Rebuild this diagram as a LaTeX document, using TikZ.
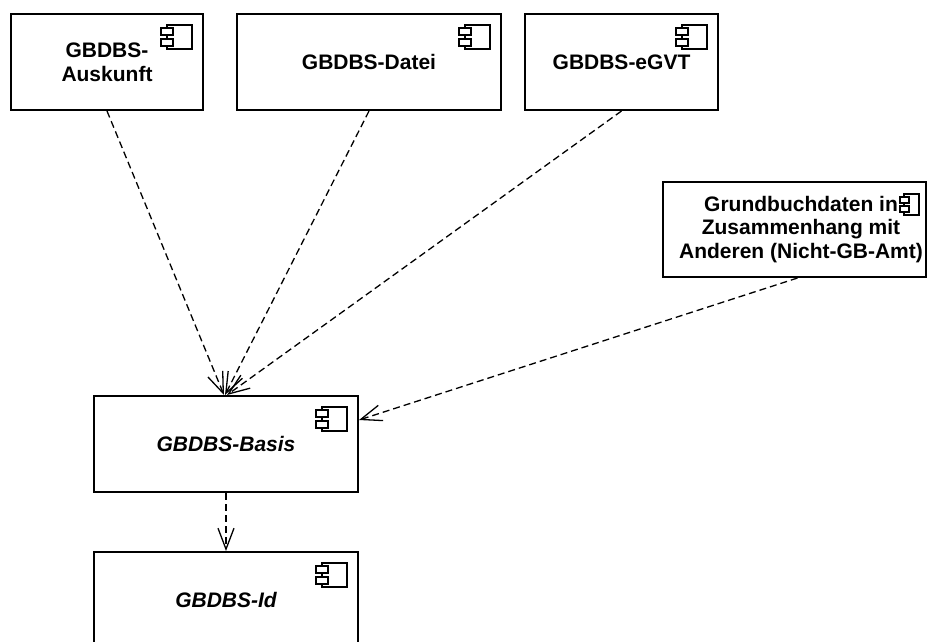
\documentclass[tikz,border=0pt]{standalone}
\usepackage{fontspec}
\setmainfont{Liberation Sans}
\usetikzlibrary{arrows.meta,calc}
\tikzset{
  comp/.style={draw,line width=2pt,fill=white,inner sep=0pt,align=center,
    font=\fontsize{21}{24}\selectfont\bfseries,minimum height=96pt},
  lbl/.style={inner sep=0pt,align=center,font=\fontsize{21}{23.5}\selectfont\bfseries},
  dep/.style={line width=1.3pt,dash pattern=on 7pt off 4pt,
    -{Straight Barb[length=21pt,width=16pt,line width=1.3pt]}},
  iconline/.style={line width=1.3pt,fill=white},
  compicon/.pic={
    \draw[iconline] (-37,12) rectangle (-12,36);
    \draw[iconline] (-43,15) rectangle (-31,22);
    \draw[iconline] (-43,26) rectangle (-31,33);
  }
}
\begin{document}
\begin{tikzpicture}[x=1pt,y=-1pt]
\useasboundingbox (0,0) rectangle (928,641);
\clip (0,0) rectangle (928,641);
\fill[white] (0,0) rectangle (928,641);

% boxes
\node[comp,minimum width=192pt] (ausk) at (107,62) {GBDBS-\\Auskunft};
\node[comp,minimum width=264pt] (datei) at (369,62) {GBDBS-Datei};
\node[comp,minimum width=193pt] (egvt) at (621.5,62) {GBDBS-eGVT};
\node[comp,minimum width=263pt,minimum height=95pt] (grund) at (794.5,229.5) {};
\node[lbl] (gtext) at (801,229.5) {Grundbuchdaten in\\Zusammenhang mit\\Anderen (Nicht-GB-Amt)};
\node[comp,minimum width=264pt,font=\fontsize{21}{24}\selectfont\bfseries\itshape] (basis) at (226,444) {GBDBS-Basis};
\node[comp,minimum width=264pt,font=\fontsize{21}{24}\selectfont\bfseries\itshape] (id) at (226,600) {GBDBS-Id};

% component icons
\pic at (ausk.north east) {compicon};
\pic at (datei.north east) {compicon};
\pic at (egvt.north east) {compicon};
\pic at (basis.north east) {compicon};
\pic at (id.north east) {compicon};
\draw[iconline] (904,194) rectangle (919,215);
\draw[iconline] (900,197) rectangle (909,203);
\draw[iconline] (900,206) rectangle (909,212);

% dependencies
\draw[dep] (ausk.south) -- ($(basis.north)+(-2,0)$);
\draw[dep] (datei.south) -- ($(basis.north)+(-1,0)$);
\draw[dep] (egvt.south) -- ($(basis.north)+(1,0)$);
\draw[dep] ($(grund.south)+(3,0)$) -- ($(basis.north east)+(0,25)$);
\draw[dep] (basis.south) -- (id.north);
\end{tikzpicture}
\end{document}
